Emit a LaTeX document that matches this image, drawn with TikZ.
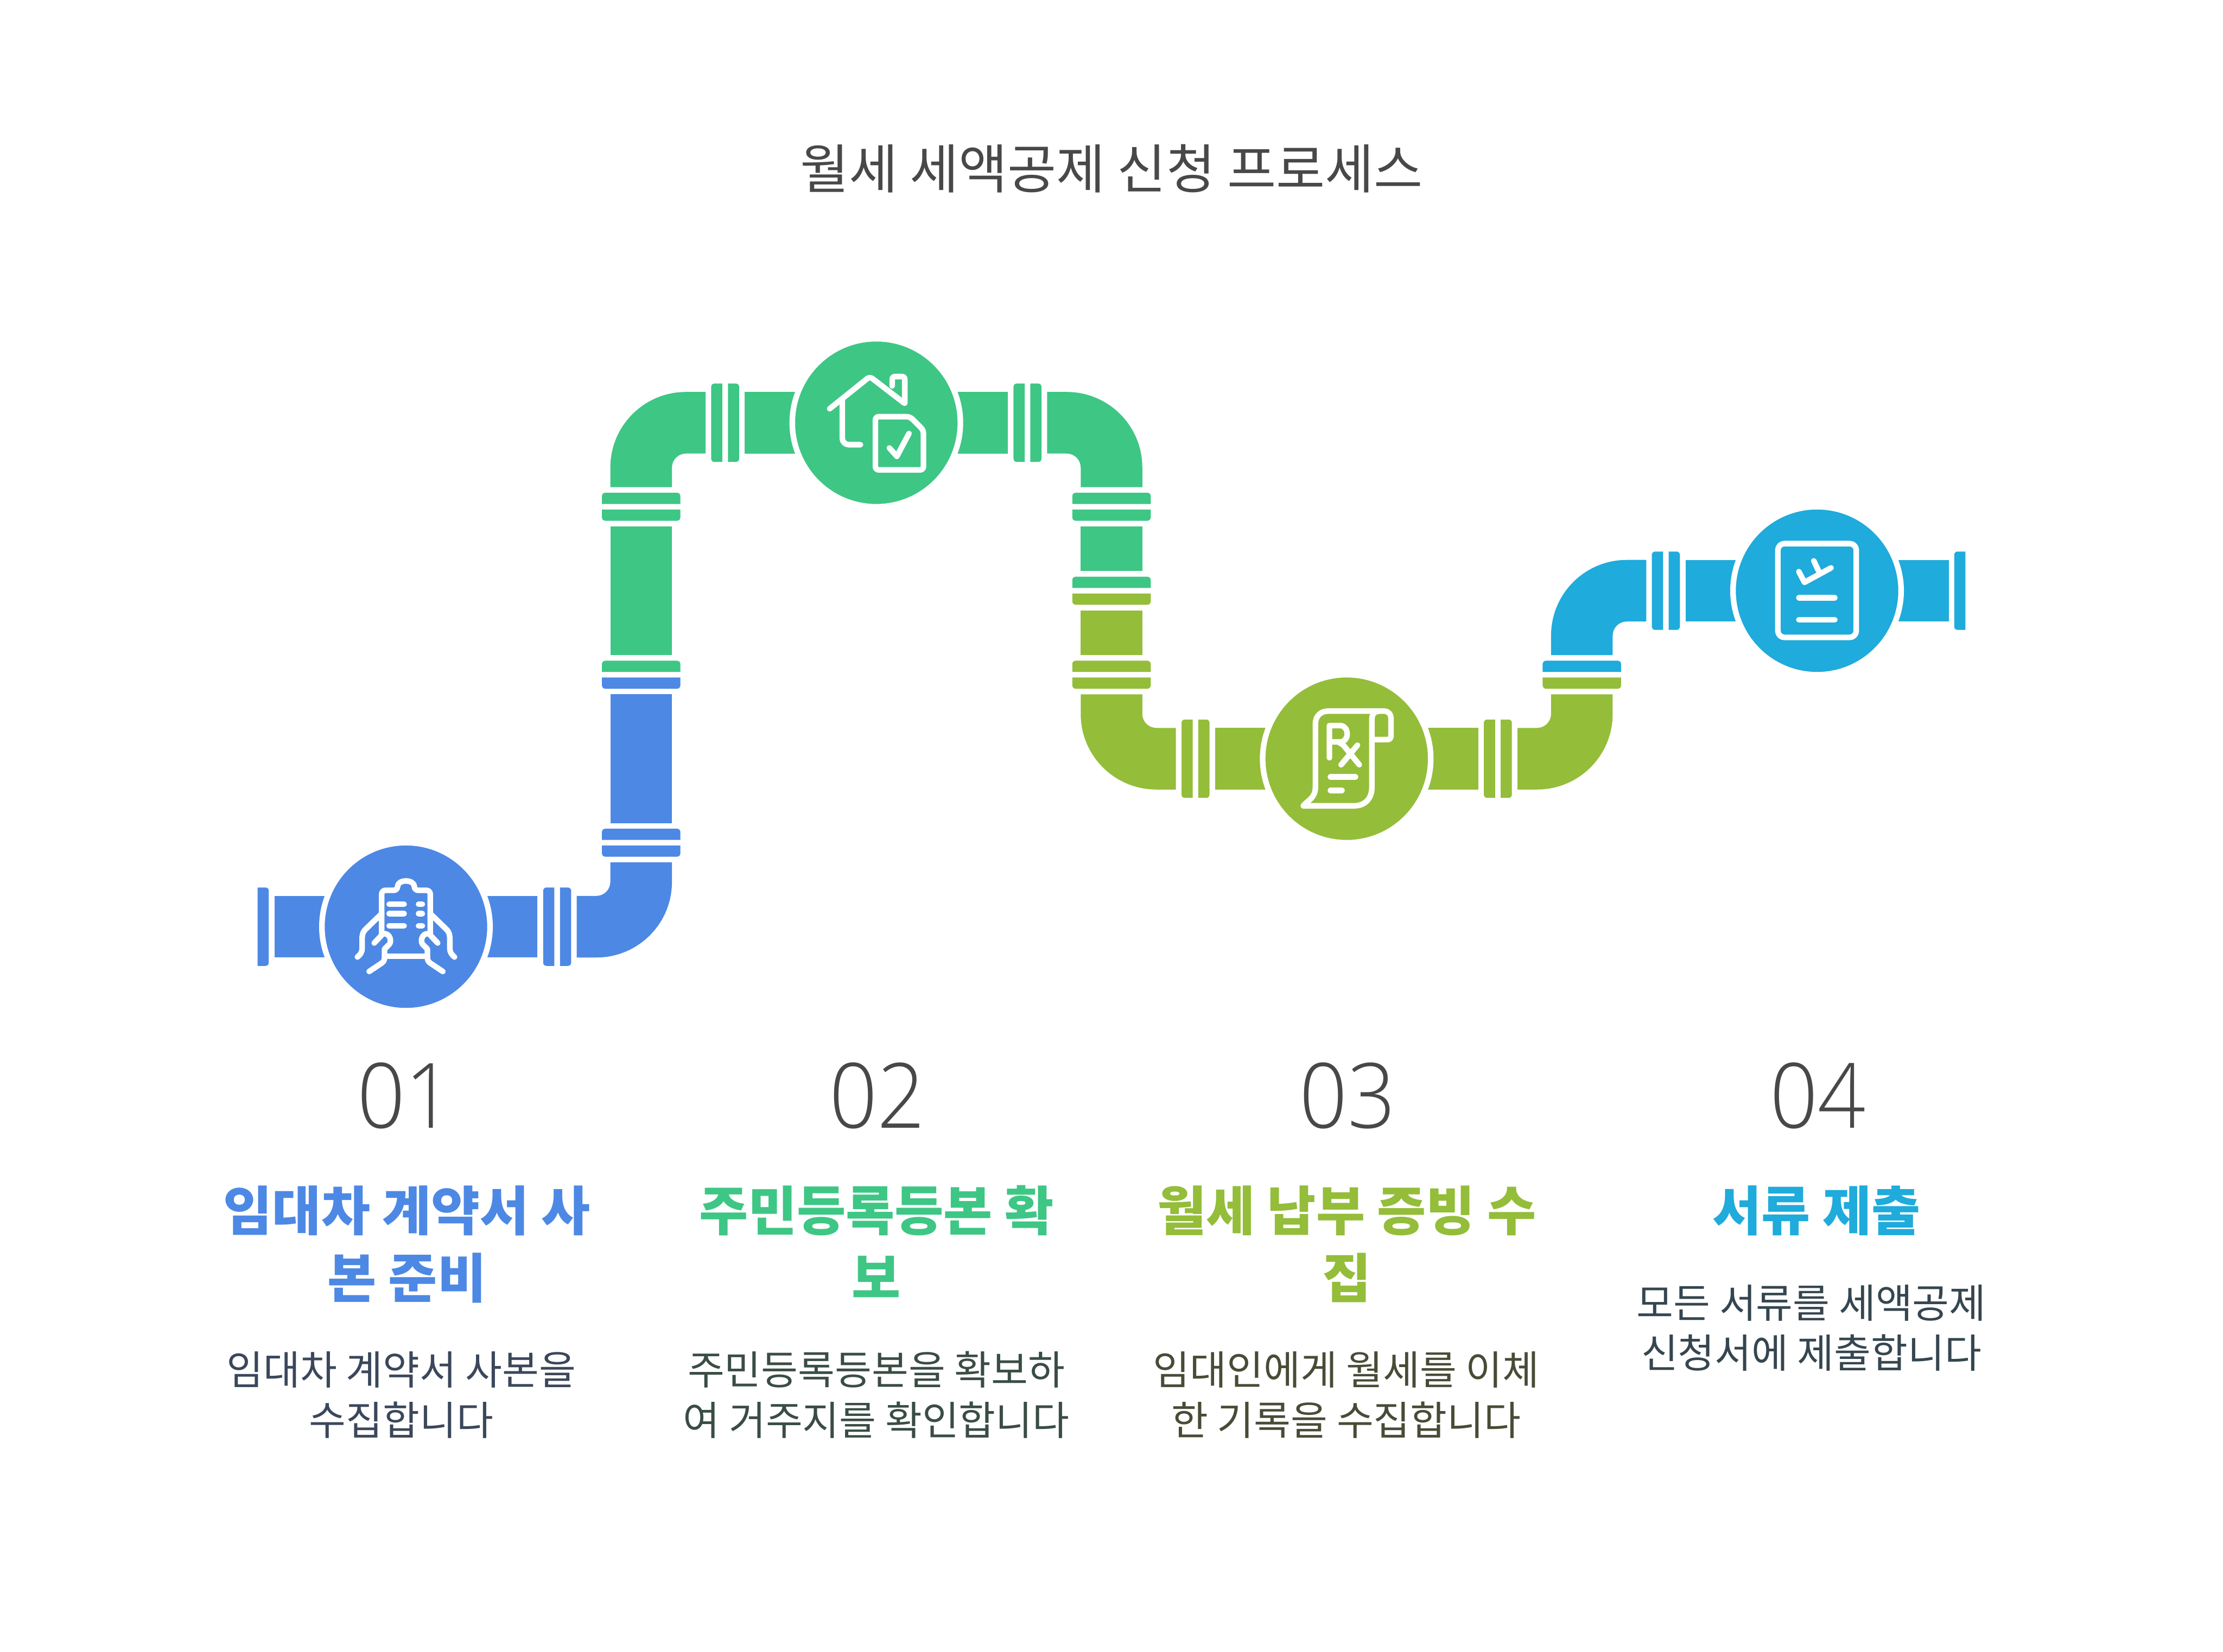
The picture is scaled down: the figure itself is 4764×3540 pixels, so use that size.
\documentclass[tikz,border=0pt]{standalone}
\usepackage{fontspec}
\setmainfont{Noto Sans CJK KR}
\newfontfamily\numfont[FakeStretch=0.93]{Open Sans Light}
\definecolor{pipeblue}{HTML}{4D88E5}
\definecolor{pipegreen}{HTML}{3EC685}
\definecolor{pipeolive}{HTML}{94BD3A}
\definecolor{pipecyan}{HTML}{1FABDB}
\definecolor{inkgray}{HTML}{484848}
\definecolor{inkblue}{HTML}{3B475B}
\definecolor{inkgreen}{HTML}{3A4D44}
\definecolor{inkolive}{HTML}{484C36}
\definecolor{inkcyan}{HTML}{354650}
\newcommand{\pipeplate}[4]{\fill[#1,shift={(#2,#3)},rotate=#4] (-84,12) [rounded corners=0.07cm] -- (-84,-12) -- (84,-12) [sharp corners] -- (84,12) -- cycle;}
\newcommand{\pipeelbow}[5]{\fill[#1,shift={(#2,#3)},xscale=#4,yscale=#5] (-42,162) -- (0,162) arc[start angle=90,end angle=0,radius=162] -- (162,-42) -- (30,-42) -- (30,0) arc[start angle=0,end angle=90,radius=30] -- (-42,30) -- cycle;}
\tikzset{
  hub/.style={circle,draw=white,line width=0.12cm,minimum size=3.6cm,inner sep=0pt},
  iconline/.style={draw=white,line width=0.12cm,line cap=round,line join=round},
  numlabel/.style={anchor=base,text=inkgray,font=\numfont\fontsize{55}{60}\selectfont},
  headlabel/.style={anchor=base,align=center,font=\bfseries\fontsize{32.4}{41}\selectfont},
  desclabel/.style={anchor=base,align=center,font=\fontsize{24.4}{30.7}\selectfont},
}
\begin{document}
\begin{tikzpicture}[x=0.01cm,y=-0.01cm]
	\useasboundingbox (0,0) rectangle (4764,3540);

	% Straight pipe pieces
	\fill[pipeblue] (588,1920) rectangle (1152,2052);
	\fill[pipeblue] (1308,1488) rectangle (1440,1764);
	\fill[pipegreen] (1308,1128) rectangle (1440,1404);
	\fill[pipegreen] (1596,840) rectangle (2160,972);
	\fill[pipegreen] (2316,1128) rectangle (2448,1224);
	\fill[pipeolive] (2316,1308) rectangle (2448,1404);
	\fill[pipeolive] (2604,1560) rectangle (3168,1692);
	\fill[pipecyan] (3612,1200) rectangle (4176,1332);

	% Elbows
	\pipeelbow{pipeblue}{1278}{1890}{1}{1}
	\pipeelbow{pipegreen}{1470}{1002}{-1}{-1}
	\pipeelbow{pipegreen}{2286}{1002}{1}{-1}
	\pipeelbow{pipeolive}{2478}{1530}{-1}{1}
	\pipeelbow{pipeolive}{3294}{1530}{1}{1}
	\pipeelbow{pipecyan}{3486}{1362}{-1}{-1}

	% Flanges
	\foreach \c/\x/\y/\a in {
		pipeblue/564/1986/-90, pipeblue/1176/1986/90, pipeblue/1212/1986/-90,
		pipeblue/1374/1824/180, pipeblue/1374/1788/0, pipeblue/1374/1464/180, pipegreen/1374/1428/0,
		pipegreen/1374/1104/180, pipegreen/1374/1068/0,
		pipegreen/1536/906/90, pipegreen/1572/906/-90, pipegreen/2184/906/90, pipegreen/2220/906/-90,
		pipegreen/2382/1068/0, pipegreen/2382/1104/180, pipegreen/2382/1248/0, pipeolive/2382/1284/180,
		pipeolive/2382/1428/0, pipeolive/2382/1464/180,
		pipeolive/2544/1626/90, pipeolive/2580/1626/-90, pipeolive/3192/1626/90, pipeolive/3228/1626/-90,
		pipeolive/3390/1464/180, pipecyan/3390/1428/0,
		pipecyan/3552/1266/90, pipecyan/3588/1266/-90, pipecyan/4200/1266/90}
		{\pipeplate{\c}{\x}{\y}{\a}}

	% Hubs
	\node[hub,fill=pipeblue] (hubA) at (870,1986) {};
	\node[hub,fill=pipegreen] (hubB) at (1878,906) {};
	\node[hub,fill=pipeolive] (hubC) at (2886,1626) {};
	\node[hub,fill=pipecyan] (hubD) at (3894,1266) {};

	% Clipboard in two hands
	\begin{scope}[shift={(hubA)}]
		\draw[iconline,rounded corners=0.08cm] (-52,18) -- (-52,-78) -- (-18,-78) .. controls (-18,-102) and (18,-102) .. (18,-78) -- (52,-78) -- (52,18);
		\draw[iconline] (-46,63) -- (46,63);
		\foreach \y in {-48,-28,-2} {
			\draw[iconline] (-36,\y) -- (-4,\y);
			\draw[iconline] (27,\y) -- (35,\y);
		}
		\foreach \s in {1,-1} {
			\draw[iconline,xscale=\s] (-52,-28) -- (-85,4) .. controls (-94,12) and (-94,20) .. (-94,28) -- (-94,46) .. controls (-94,55) and (-98,60) .. (-104,65);
			\draw[iconline,xscale=\s] (-52,18) -- (-68,35);
			\draw[iconline,xscale=\s] (-46,15) .. controls (-34,15) and (-30,32) .. (-36,38) -- (-46,48) -- (-46,66) .. controls (-46,72) and (-48,75) .. (-52,78) -- (-79,96);
		}
	\end{scope}

	% House with document
	\begin{scope}[shift={(hubB)}]
		\draw[iconline,rounded corners=0.06cm] (-100,-30) -- (-14,-99) -- (60,-42);
		\draw[iconline,rounded corners=0.05cm] (34,-79) -- (34,-99) -- (61,-99) -- (61,-42);
		\draw[iconline,rounded corners=0.14cm] (-73,-48) -- (-73,47) -- (-34,47);
		\draw[iconline,rounded corners=0.07cm] (-2,-13) -- (72,-13) -- (101,16) -- (101,101) -- (-2,101) -- cycle;
		\draw[iconline] (28,54) -- (44,72) -- (70,23);
	\end{scope}

	% Prescription scroll
	\begin{scope}[shift={(hubC)}]
		\draw[iconline] (-67,61) -- (-67,-75) .. controls (-67,-92) and (-55,-102) .. (-40,-102) -- (80,-102) .. controls (90,-102) and (95,-95) .. (95,-85) -- (95,-50) .. controls (95,-44) and (92,-41) .. (88,-41) -- (54,-41);
		\draw[iconline] (70,-102) .. controls (60,-102) and (54,-95) .. (54,-85) -- (54,61) .. controls (54,85) and (40,101) .. (15,101) -- (-93,101) .. controls (-85,90) and (-67,85) .. (-67,61);
		\draw[iconline] (-37,-2) -- (-37,-71) -- (-14,-71) .. controls (-4,-71) and (1,-62) .. (1,-53) .. controls (1,-44) and (-4,-36) .. (-14,-36) -- (-37,-36);
		\draw[iconline] (-18,-36) -- (-7,-29) -- (27,13);
		\draw[iconline] (23,-29) -- (-12,13);
		\draw[iconline] (-35,39) -- (19,39);
		\draw[iconline] (-35,68) -- (-10,68);
	\end{scope}

	% Checked form
	\begin{scope}[shift={(hubD)}]
		\draw[iconline,rounded corners=0.14cm] (-84,-101) rectangle (84,100);
		\draw[iconline] (-39,-41) -- (-27,-18) -- (30,-49);
		\draw[iconline] (-7,-64) -- (3,-43);
		\draw[iconline] (-39,15) -- (38,15);
		\draw[iconline] (-39,62) -- (38,62);
	\end{scope}

	% Title
	\node[anchor=base,text=inkgray,font=\fontsize{32.4}{41}\selectfont] (titleLabel) at (2382,404) {월세 세액공제 신청 프로세스};

	% Numbers
	\node[numlabel] (numA) at (868,2417) {01};
	\node[numlabel] (numB) at (1880,2417) {02};
	\node[numlabel] (numC) at (2888,2417) {03};
	\node[numlabel] (numD) at (3896,2417) {04};

	% Headings
	\node[headlabel,text=pipeblue] (headA) at (872,2782) {임대차 계약서 사\\본 준비};
	\node[headlabel,text=pipegreen] (headB) at (1878,2782) {주민등록등본 확\\보};
	\node[headlabel,text=pipeolive] (headC) at (2886,2782) {월세 납부 증빙 수\\집};
	\node[headlabel,text=pipecyan] (headD) at (3893,2637) {서류 제출};

	% Descriptions
	\node[desclabel,text=inkblue] (descA) at (860,3076) {임대차 계약서 사본을\\수집합니다};
	\node[desclabel,text=inkgreen] (descB) at (1878,3076) {주민등록등본을 확보하\\여 거주지를 확인합니다};
	\node[desclabel,text=inkolive] (descC) at (2885,3076) {임대인에게 월세를 이체\\한 기록을 수집합니다};
	\node[desclabel,text=inkcyan] (descD) at (3882,2932) {모든 서류를 세액공제\\신청서에 제출합니다};
\end{tikzpicture}
\end{document}
